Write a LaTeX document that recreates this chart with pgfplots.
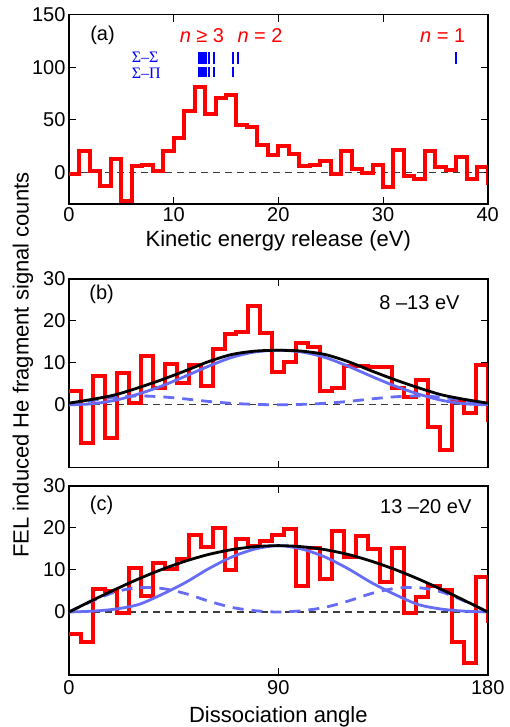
\documentclass[border=0pt]{standalone}
\usepackage{fontspec}
\setmainfont{Liberation Sans}
\newfontfamily\grfont{Liberation Serif}
\usepackage{pgfplots}
\pgfplotsset{compat=1.18}

\definecolor{fitblue}{RGB}{102,108,245}
\definecolor{zerogray}{RGB}{60,60,60}

\pgfplotsset{
  panel/.style={
    scale only axis,
    width=418.7pt,
    axis line style={line width=1.6pt, black},
    tick align=inside,
    major tick length=7pt,
    major tick style={line width=1pt, black},
    tick label style={font=\fontsize{20}{24}\selectfont},
    label style={font=\fontsize{22}{26}\selectfont},
    /pgf/number format/assume math mode=true,
    clip=true,
  },
  hist/.style={red, line width=4pt, const plot, line join=miter},
  zeroline/.style={zerogray, line width=1.1pt, dash pattern=on 7pt off 5pt},
  fitsum/.style={black, line width=2.8pt, smooth},
  fitpart/.style={fitblue, line width=2.8pt, smooth},
  fitdash/.style={fitblue, line width=2.8pt, smooth, dash pattern=on 11pt off 8pt},
}

\begin{document}
\begin{tikzpicture}
\useasboundingbox (0,0) rectangle (510pt,727pt);

% ---------------- (a) kinetic energy release ----------------
\begin{axis}[panel,
  at={(69pt,523.2pt)}, anchor=south west, height=189.1pt,
  xmin=0, xmax=40, ymin=-30, ymax=150,
  xtick={0,10,20,30,40}, ytick={0,50,100,150},
  xlabel={Kinetic energy release (eV)},
  xlabel style={yshift=-2pt},
  unbounded coords=jump,
]
\addplot[zeroline] coordinates {(0,0) (40,0)};
\addplot[hist] coordinates {
  (0,-2) (1,20) (2,1) (3,-13) (4,13) (5,-27) (6,6) (7,7) (8,1) (9,20)
  (10,33) (11,58) (12,81) (13,55) (14,71) (15,74) (16,45) (17,43) (18,26) (19,16)
  (20,25) (21,17) (22,6) (23,7) (24,11) (25,-2) (26,20) (27,3.5) (28,-1) (29,7)
  (30,-14) (31,21) (32,-4) (33,-6) (34,20) (35,5) (36,2) (37,15) (38,-6) (39,5)
  (40,-10) (41,-10)
};
% Sigma-Sigma levels
\addplot[blue, line width=2pt] coordinates {
  (12.38,103.4) (12.38,114.5) (nan,nan) (12.47,103.4) (12.47,114.5) (nan,nan)
  (12.56,103.4) (12.56,114.5) (nan,nan) (12.65,103.4) (12.65,114.5) (nan,nan)
  (12.75,103.4) (12.75,114.5) (nan,nan) (12.84,103.4) (12.84,114.5) (nan,nan)
  (12.93,103.4) (12.93,114.5) (nan,nan) (13.03,103.4) (13.03,114.5) (nan,nan)
  (13.12,103.4) (13.12,114.5) (nan,nan) (13.41,103.4) (13.41,114.5) (nan,nan)
  (13.86,103.4) (13.86,114.5) (nan,nan) (15.67,103.4) (15.67,114.5) (nan,nan)
  (16.19,103.4) (16.19,114.5) (nan,nan) (36.98,103.4) (36.98,114.5)
};
% Sigma-Pi levels
\addplot[blue, line width=2pt] coordinates {
  (12.38,90.5) (12.38,100.6) (nan,nan) (12.47,90.5) (12.47,100.6) (nan,nan)
  (12.56,90.5) (12.56,100.6) (nan,nan) (12.65,90.5) (12.65,100.6) (nan,nan)
  (12.75,90.5) (12.75,100.6) (nan,nan) (12.84,90.5) (12.84,100.6) (nan,nan)
  (12.93,90.5) (12.93,100.6) (nan,nan) (13.05,90.5) (13.05,100.6) (nan,nan)
  (13.38,90.5) (13.38,100.6) (nan,nan) (13.87,90.5) (13.87,100.6) (nan,nan)
  (15.68,90.5) (15.68,100.6)
};
\node[font=\fontsize{20}{24}\selectfont] at (axis cs:3.2,130.7) {(a)};
\node[red, font=\fontsize{20}{24}\selectfont] at (axis cs:12.7,130) {\textit{n} ≥ 3};
\node[red, font=\fontsize{20}{24}\selectfont] at (axis cs:18.25,130) {\textit{n} = 2};
\node[red, font=\fontsize{20}{24}\selectfont] at (axis cs:35.7,130) {\textit{n} = 1};
\node[blue, anchor=west, inner sep=0pt, font=\grfont\fontsize{16}{18}\selectfont] at (axis cs:5.99,109.2) {Σ–Σ};
\node[blue, anchor=west, inner sep=0pt, font=\grfont\fontsize{16}{18}\selectfont] at (axis cs:5.99,94.6) {Σ–Π};
\end{axis}

% ---------------- (b) 8-13 eV ----------------
\begin{axis}[panel,
  at={(69pt,259.3pt)}, anchor=south west, height=188.7pt,
  xmin=0, xmax=180, ymin=-15, ymax=30,
  xtick={0,90,180}, xticklabels={}, ytick={0,10,20,30},
]
\addplot[zeroline] coordinates {(0,0) (180,0)};
\addplot[hist] coordinates {
  (0,3.3) (5.143,-9) (10.286,6.9) (15.429,-8) (20.571,7.6) (25.714,0.4)
  (30.857,11.6) (36,4) (41.143,9.8) (46.286,5.3) (51.429,9.6) (56.571,4.4)
  (61.714,13.3) (66.857,16.8) (72,17.3) (77.143,23.5) (82.286,17.1) (87.429,7.9)
  (92.571,10.3) (97.714,14.7) (102.857,13.7) (108,3.3) (113.143,4) (118.286,9.2)
  (123.429,9.2) (128.571,9.1) (133.714,8.9) (138.857,4) (144,1.8) (149.143,5.8)
  (154.286,-5.4) (159.429,-10.8) (164.571,1.2) (169.714,-2) (174.857,9.6)
  (180,-3.6) (185.143,-3.6)
};
\addplot[fitdash] coordinates {
  (0,0) (5,0.5) (10,1) (20,1.8) (30,2.1) (40,1.9) (50,1.4) (60,0.8) (70,0.35) (80,0.1)
  (90,0) (100,0.1) (110,0.35) (120,0.8) (130,1.4) (140,1.9) (150,2.1) (160,1.8)
  (170,1) (175,0.5) (180,0)
};
\addplot[fitpart] coordinates {
  (0,0) (10,0.25) (20,1.1) (30,2.6) (40,4.5) (50,6.8) (60,9.2) (70,11.3) (80,12.6)
  (90,13) (100,12.6) (110,11.3) (120,9.2) (130,6.8) (140,4.5) (150,2.6) (160,1.1)
  (170,0.25) (180,0)
};
\addplot[fitsum] coordinates {
  (0,0.4) (10,1.3) (20,2.4) (30,4.1) (40,6) (50,8.1) (60,10.3) (70,12) (80,12.8)
  (90,13) (100,12.8) (110,12) (120,10.3) (130,8.1) (140,6) (150,4.1) (160,2.4)
  (170,1.3) (180,0.4)
};
\node[font=\fontsize{20}{24}\selectfont] at (axis cs:14,26.3) {(b)};
\node[anchor=east, font=\fontsize{20}{24}\selectfont] at (axis cs:169.4,24.4) {8 –13 eV};
\end{axis}

% ---------------- (c) 13-20 eV ----------------
\begin{axis}[panel,
  at={(69pt,52pt)}, anchor=south west, height=189pt,
  xmin=0, xmax=180, ymin=-15, ymax=30,
  xtick={0,90,180}, ytick={0,10,20,30},
  xticklabel style={yshift=-2pt},
  xlabel={Dissociation angle},
  xlabel style={yshift=-5pt},
]
\addplot[zeroline] coordinates {(0,0) (180,0)};
\addplot[hist] coordinates {
  (0,-5.3) (5.143,-7.1) (10.286,5.4) (15.429,5) (20.571,-0.3) (25.714,10.5)
  (30.857,3.8) (36,11.7) (41.143,10.3) (46.286,12.5) (51.429,18.4) (56.571,15.5)
  (61.714,20) (66.857,10.1) (72,17.4) (77.143,15.8) (82.286,16.8) (87.429,18.4)
  (92.571,19.7) (97.714,6.3) (102.857,15.2) (108,7.9) (113.143,19.4) (118.286,13.1)
  (123.429,18.2) (128.571,15) (133.714,7.1) (138.857,15.2) (144,-0.2) (149.143,3.6)
  (154.286,6.3) (159.429,5.2) (164.571,-7.1) (169.714,-12.2) (174.857,8.4)
  (180,-2.1) (185.143,-2.1)
};
\addplot[fitdash] coordinates {
  (0,0) (10,2.6) (20,4.8) (30,5.8) (40,5.6) (50,4.4) (60,2.6) (70,1.1) (80,0.3)
  (90,0) (100,0.3) (110,1.1) (120,2.6) (130,4.4) (140,5.6) (150,5.8) (160,4.8)
  (170,2.6) (180,0)
};
\addplot[fitpart] coordinates {
  (0,0) (10,0.2) (20,0.7) (30,1.8) (40,4.2) (50,7) (60,10.3) (70,13.1) (80,15)
  (90,15.8) (100,15) (110,13.1) (120,10.3) (130,7) (140,4.2) (150,1.8) (160,0.7)
  (170,0.2) (180,0)
};
\addplot[fitsum] coordinates {
  (0,0) (10,2.75) (20,5.4) (30,7.9) (40,10.15) (50,12.1) (60,13.7) (70,14.85) (80,15.55)
  (90,15.8) (100,15.55) (110,14.85) (120,13.7) (130,12.1) (140,10.15) (150,7.9)
  (160,5.4) (170,2.75) (180,0)
};
\node[font=\fontsize{20}{24}\selectfont] at (axis cs:14,25.5) {(c)};
\node[anchor=east, font=\fontsize{20}{24}\selectfont] at (axis cs:174.5,25) {13 –20 eV};
\end{axis}

\node[rotate=90, font=\fontsize{22}{26}\selectfont] at (23pt,362pt) {FEL induced He fragment signal counts};
\end{tikzpicture}
\end{document}
